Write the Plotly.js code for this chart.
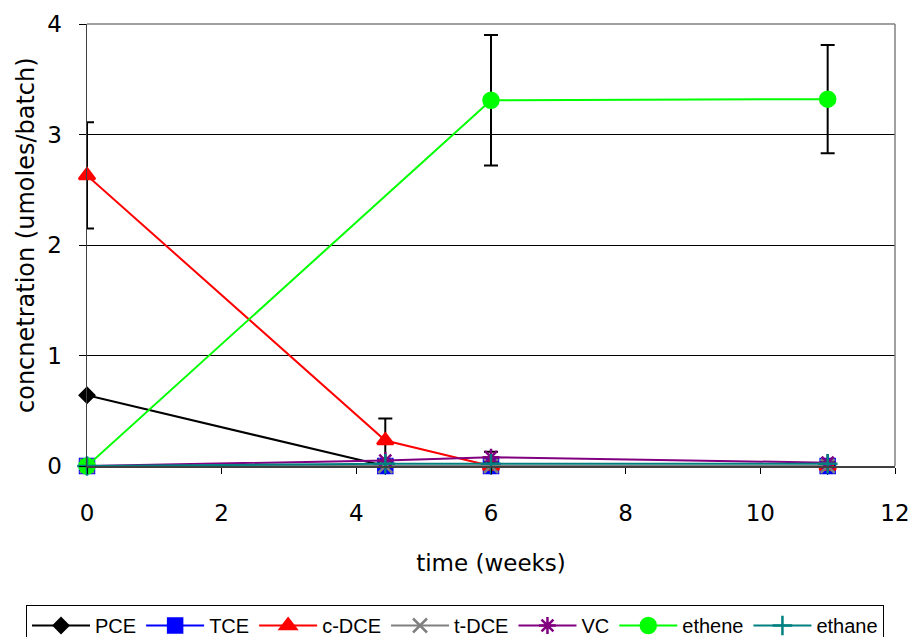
<!DOCTYPE html>
<html><head><meta charset="utf-8">
<script src="https://cdn.plot.ly/plotly-3.0.1.min.js"></script>
<style>html,body{margin:0;padding:0;background:#fff}</style>
</head><body><div id="chart" style="width:912px;height:637px"></div>
<script>
const seriesNames = ["PCE","TCE","c-DCE","t-DCE","VC","ethene","ethane"];
const timeAll = [0, 4.43, 6, 11];
const timeEthene = [0, 6, 11];
const pce = [0.64, 0, 0, 0];
const tce = [0, 0, 0, 0];
const cdce = [2.63, 0.23, 0, 0];
const cdceErr = [0.48, 0.20, 0, 0];
const tdce = [0, 0, 0, 0];
const vc = [0, 0.05, 0.08, 0.03];
const vcErr = [0, 0, 0.05, 0];
const ethene = [0, 3.31, 3.32];
const etheneErr = [0, 0.59, 0.49];
const ethane = [0, 0.02, 0.02, 0.02];
const xTitle = 'time (weeks)';
const yTitle = 'concnetration (umoles/batch)';
const colors = ["#000000","#0000ff","#ff0000","#808080","#800080","#00ff00","#008080"];
const symbols = ["diamond","square","triangle-up","x-thin-open","asterisk-open","circle","cross-thin-open"];
const sizes = [11,14,14,14,14,15,14];
const xs = [timeAll,timeAll,timeAll,timeAll,timeAll,timeEthene,timeAll];
const ys = [pce,tce,cdce,tdce,vc,ethene,ethane];
const errs = [null,null,cdceErr,null,vcErr,etheneErr,null];

const traces = seriesNames.map((n,i)=>{
  const t = {
    x: xs[i], y: ys[i], name: n, type:'scatter', mode:'lines+markers',
    cliponaxis:false,
    line:{color:colors[i], width:2},
    marker:{symbol:symbols[i], size:sizes[i], color:colors[i], line:{color:colors[i], width:2.5}}
  };
  if(errs[i]) t.error_y = {type:'data', array:errs[i], visible:true, color:'#000000', thickness:2, width:7};
  return t;
});

const axisFont = '"DejaVu Sans", Verdana, sans-serif';
const layout = {
  width:912, height:637,
  margin:{l:87, r:17, t:24, b:171, autoexpand:false},
  paper_bgcolor:'#fff', plot_bgcolor:'#fff',
  font:{family:'"Liberation Sans", Arial, sans-serif', color:'#000'},
  showlegend:true,
  legend:{orientation:'h', x:(26-87)/808, xanchor:'left', xref:'paper', y:(466-605)/442, yanchor:'top',
    bordercolor:'#000', borderwidth:1, font:{size:20}, itemwidth:58, tracegroupgap:0,
    traceorder:'normal'},
  xaxis:{range:[0,12], dtick:2, tick0:0, ticks:'outside', ticklen:6, tickcolor:'#000', tickwidth:1,
    showline:true, linecolor:'#404040', linewidth:1.5, mirror:false, showgrid:false, zeroline:false,
    ticklabelstandoff:20,
    tickfont:{size:23, family:axisFont}, title:{text:xTitle, font:{size:23, family:axisFont}, standoff:30}},
  yaxis:{range:[0,4], dtick:1, tick0:0, ticks:'outside', ticklen:7, tickcolor:'#000', tickwidth:1,
    showline:true, linecolor:'#404040', linewidth:1.5, showgrid:true, gridcolor:'#000', gridwidth:1,
    zeroline:false, ticklabelstandoff:12, tickfont:{size:23, family:axisFont}},
  annotations:[{text:yTitle, xref:'paper', yref:'paper', x:(26-87)/808, y:(466-235)/442,
    xanchor:'center', yanchor:'middle', textangle:-90, showarrow:false,
    font:{size:24, family:axisFont, color:'#000'}}],
  shapes:[
    {type:'line', xref:'paper', yref:'paper', x0:0, x1:1, y0:1, y1:1, line:{color:'#808080', width:1.5}, layer:'above'},
    {type:'line', xref:'paper', yref:'paper', x0:1, x1:1, y0:0, y1:1, line:{color:'#808080', width:1.5}, layer:'above'}
  ]
};
Plotly.newPlot('chart', traces, layout, {staticPlot:true});
</script></body></html>
